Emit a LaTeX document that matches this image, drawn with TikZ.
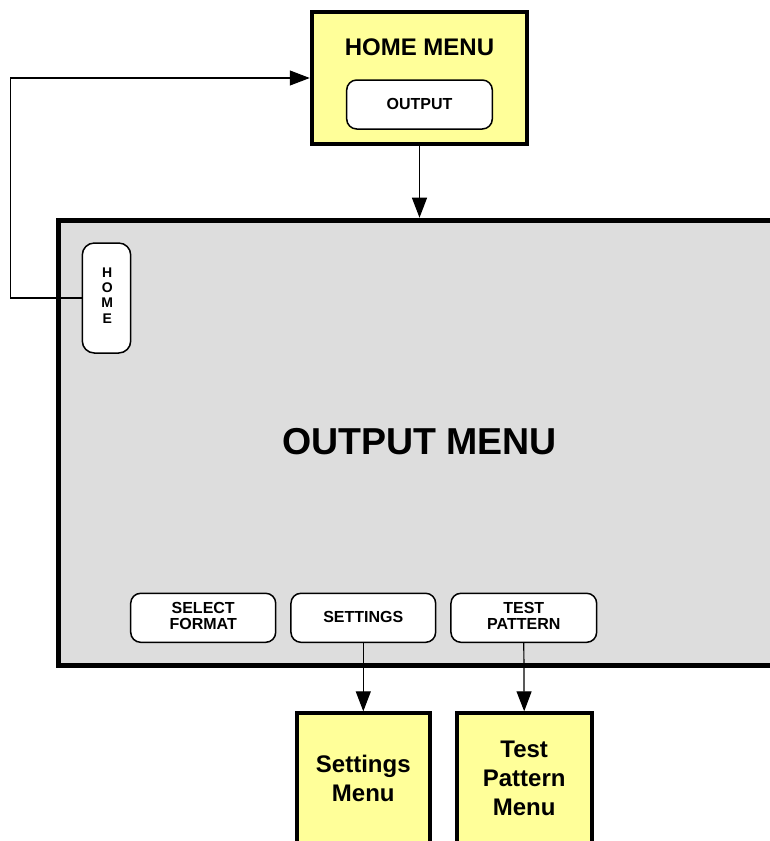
\documentclass[tikz,border=0pt]{standalone}
\usepackage{fontspec}
\setmainfont{Liberation Sans}
\usetikzlibrary{arrows.meta}
\definecolor{yel}{RGB}{255,255,153}
\definecolor{gry}{RGB}{221,221,221}
\tikzset{
  yelbox/.style={draw=black, line width=4pt, fill=yel, inner sep=0pt},
  graybox/.style={draw=black, line width=5pt, fill=gry, inner sep=0pt},
  btn/.style={draw=black, line width=1.5pt, fill=white, rounded corners=10pt, inner sep=0pt},
  conn/.style={draw=black, line width=1.2pt, -{Triangle[length=20pt,width=15pt]}},
  plain/.style={draw=black, line width=1.2pt},
  lbl/.style={inner sep=0pt, align=center, font=\bfseries},
}
\begin{document}
\begin{tikzpicture}[x=1pt, y=-1pt]
\useasboundingbox (0,0) rectangle (770,841);
\clip (0,0) rectangle (770,841);
\fill[white] (0,0) rectangle (770,841);

% Home menu
\node[yelbox, minimum width=215.5pt, minimum height=131.2pt] (homemenu) at (419.5,78) {};
\node[lbl, anchor=base, font=\bfseries\fontsize{24}{28}\selectfont] (homemenutxt) at (419.5,55) {HOME MENU};
\node[btn, minimum width=145.6pt, minimum height=49pt] (outbtn) at (419.5,104.5) {};
\node[lbl, anchor=base, font=\bfseries\fontsize{16}{16}\selectfont] (outbtntxt) at (419.5,109.3) {OUTPUT};

% Output menu (clipped at right)
\node[graybox, minimum width=742pt, minimum height=445pt] (outmenu) at (429,442.7) {};
\node[lbl, anchor=base, font=\bfseries\fontsize{37.5}{40}\selectfont] (outmenutxt) at (419.5,454.3) {OUTPUT MENU};

% Home button
\node[btn, rounded corners=12pt, minimum width=48.4pt, minimum height=110pt] (homebtn) at (106.5,298) {};
\node[lbl, font=\bfseries\fontsize{14}{15.3}\selectfont] (homebtntxt) at (107.2,295.3) {H\\O\\M\\E};

% Bottom buttons
\node[btn, minimum width=145pt, minimum height=49pt] (selbtn) at (203.2,617.8) {};
\node[lbl, font=\bfseries\fontsize{16}{16.5}\selectfont] (selbtntxt) at (203.2,616) {SELECT\\FORMAT};
\node[btn, minimum width=144.7pt, minimum height=49pt] (setbtn) at (363.3,617.8) {};
\node[lbl, font=\bfseries\fontsize{16}{16.5}\selectfont] (setbtntxt) at (363.3,616.7) {SETTINGS};
\node[btn, minimum width=145.7pt, minimum height=49pt] (testbtn) at (523.8,617.8) {};
\node[lbl, font=\bfseries\fontsize{16}{16.5}\selectfont] (testbtntxt) at (523.8,616) {TEST\\PATTERN};

% Bottom menus (clipped at bottom)
\node[yelbox, minimum width=133.3pt, minimum height=129.4pt] (setmenu) at (363.3,778) {};
\node[lbl, font=\bfseries\fontsize{24}{29}\selectfont] (setmenutxt) at (363.3,778.5) {Settings\\Menu};
\node[yelbox, minimum width=135pt, minimum height=129.4pt] (testmenu) at (524.2,778) {};
\node[lbl, font=\bfseries\fontsize{24}{29}\selectfont] (testmenutxt) at (524.2,778.7) {Test\\Pattern\\Menu};

% Connectors
\coordinate (bend) at (10.7,0);
\draw[conn] (homebtn.west) -- (homebtn.west -| bend) |- (homemenu.west);
\draw[conn] (homemenu.south) -- (homemenu.south |- outmenu.north);
\draw[conn] (setbtn.south) -- (setmenu.north);
\draw[conn] (testbtn.south) -- (testmenu.north);
\end{tikzpicture}
\end{document}
